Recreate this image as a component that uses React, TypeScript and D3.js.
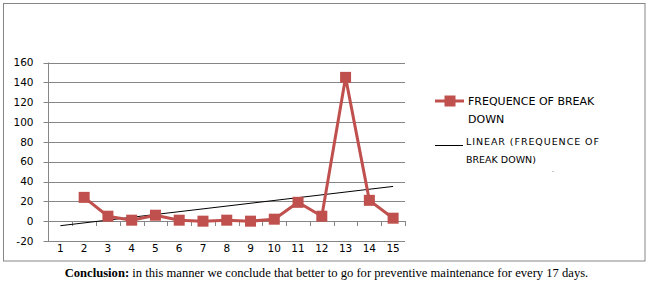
import React from "react";
import * as d3 from "d3";

const categories = ["1","2","3","4","5","6","7","8","9","10","11","12","13","14","15"];
const values: (number | null)[] = [null, 24, 5, 1, 6, 1, 0, 1, 0, 2, 19, 5, 145, 21, 3];
const yTicks = [-20, 0, 20, 40, 60, 80, 100, 120, 140, 160];
const seriesName = "FREQUENCE OF BREAK DOWN";
const trendName = "LINEAR (FREQUENCE OF BREAK DOWN)";

const W = 649, H = 287;
const RED = "#C0504D";
const GRID = "#868686";

export default function App() {
  const left = 48.5, right = 405, top = 62.5, bottom = 241;
  const x = d3.scaleBand<string>().domain(categories).range([left, right]);
  const y = d3.scaleLinear().domain([-20, 160]).range([bottom, top]);
  const cx = (c: string) => (x(c) as number) + x.bandwidth() / 2;

  const pts = categories
    .map((c, i) => ({ c, i: i + 1, v: values[i] }))
    .filter((d) => d.v !== null) as { c: string; i: number; v: number }[];

  // linear regression trendline (Excel style on index)
  const mx = d3.mean(pts, (d) => d.i) as number;
  const my = d3.mean(pts, (d) => d.v) as number;
  const sxy = d3.sum(pts, (d) => (d.i - mx) * (d.v - my));
  const sxx = d3.sum(pts, (d) => (d.i - mx) ** 2);
  const slope = sxy / sxx;
  const icpt = my - slope * mx;
  const trend = [1, categories.length].map((i) => ({ c: categories[i - 1], v: icpt + slope * i }));

  const line = d3.line<{ c: string; v: number }>().x((d) => cx(d.c)).y((d) => y(d.v));

  const font = "DejaVu Sans, Verdana, sans-serif";

  return (
    <svg width={W} height={H} style={{ position: "absolute", left: 0, top: 0, background: "#fff" }}>
      <rect x={3.5} y={3.5} width={641.5} height={257.5} fill="#fff" stroke={GRID} strokeWidth={1} />
      {yTicks.map((t) => (
        <g key={t}>
          <line x1={left - 5} x2={right} y1={Math.round(y(t)) + 0.5} y2={Math.round(y(t)) + 0.5} stroke={GRID} strokeWidth={1} />
          <text x={33.5} y={y(t)} dy="0.36em" textAnchor="end" fontFamily={font} fontSize={10.5} fill="#000">{t}</text>
        </g>
      ))}
      <line x1={left} x2={left} y1={top} y2={bottom} stroke={GRID} strokeWidth={1} />
      {categories.map((c) => (
        <line key={"t" + c} x1={Math.round((x(c) as number) + x.bandwidth()) + 0.5} x2={Math.round((x(c) as number) + x.bandwidth()) + 0.5}
          y1={Math.round(y(0))} y2={Math.round(y(0)) + 5} stroke={GRID} strokeWidth={1} />
      ))}
      {categories.map((c) => (
        <text key={"l" + c} x={cx(c)} y={bottom + 4} dy="0.71em" textAnchor="middle" fontFamily={font} fontSize={10.5} fill="#000">{c}</text>
      ))}
      <path d={line(trend) || ""} fill="none" stroke="#000" strokeWidth={1} />
      <path d={line(pts) || ""} fill="none" stroke={RED} strokeWidth={3} strokeLinejoin="round" />
      {pts.map((d) => (
        <rect key={"m" + d.c} x={cx(d.c) - 5.5} y={y(d.v) - 5.5} width={11} height={11} fill={RED} />
      ))}
      {/* legend */}
      <line x1={435} x2={464} y1={101} y2={101} stroke={RED} strokeWidth={3} />
      <rect x={444.5} y={95.5} width={11} height={11} fill={RED} />
      <text fontFamily={font} fontSize={11} fill="#000">
        <tspan x={468} y={105}>{seriesName.split(" ").slice(0, 3).join(" ")}</tspan>
        <tspan x={468} y={122.5}>{seriesName.split(" ").slice(3).join(" ")}</tspan>
      </text>
      <line x1={435} x2={463} y1={145.5} y2={145.5} stroke="#000" strokeWidth={1} />
      <text fontFamily={font} fontSize={9.5} fill="#000">
        <tspan x={466} y={145} textLength={133} lengthAdjust="spacing">{trendName.split(" ").slice(0, 3).join(" ")}</tspan>
        <tspan x={466} y={162.5}>{trendName.split(" ").slice(3).join(" ")}</tspan>
      </text>
      <text x={552} y={172} fontFamily={font} fontSize={6} fill="#000">.</text>
      <text x={326.5} y={277} textAnchor="middle" fontFamily="Liberation Serif, Times New Roman, serif" fontSize={12.6} fill="#000">
        <tspan fontWeight="bold">Conclusion:</tspan> in this manner we conclude that better to go for preventive maintenance for every 17 days.
      </text>
    </svg>
  );
}
